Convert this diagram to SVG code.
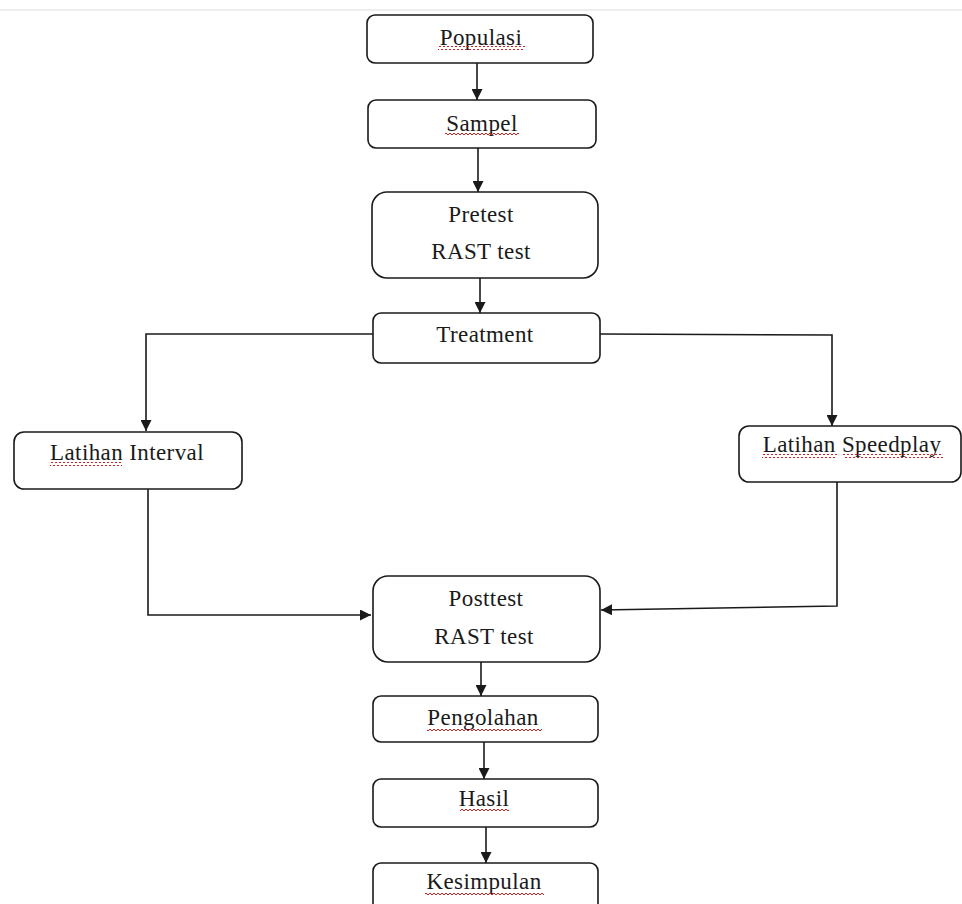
<svg xmlns="http://www.w3.org/2000/svg" width="962" height="904" viewBox="0 0 962 904">
<style>
.box{fill:#fff;stroke:#1a1a1a;stroke-width:1.6}
.t{font-family:"Liberation Serif","Times New Roman",serif;font-size:23px;letter-spacing:0.4px;fill:#1a1a1a;text-anchor:middle}
.c{fill:none;stroke:#1a1a1a;stroke-width:1.6}
.w{fill:url(#wave)}
</style>
<defs>
<marker id="ah" markerUnits="userSpaceOnUse" markerWidth="11" markerHeight="11" refX="11" refY="5.5" orient="auto">
<path d="M0,0 L11,5.5 L0,11 z" fill="#1a1a1a"/>
</marker>
<pattern id="wave" patternUnits="userSpaceOnUse" width="4" height="4">
<path d="M0,3 L2,1 L4,3" fill="none" stroke="#d02020" stroke-width="1"/>
</pattern>
</defs>
<rect x="0" y="0" width="962" height="904" fill="#fff"/>
<line x1="0" y1="10" x2="962" y2="10" stroke="#dcdcdc" stroke-width="1"/>

<g id="connectors">
<path class="c" d="M477 63 V100" marker-end="url(#ah)"/>
<path class="c" d="M478 148 V192" marker-end="url(#ah)"/>
<path class="c" d="M480 278 V313" marker-end="url(#ah)"/>
<path class="c" d="M373 334 H146 V431" marker-end="url(#ah)"/>
<path class="c" d="M600 334 L832 335 V426" marker-end="url(#ah)"/>
<path class="c" d="M148 489 V615 H371" marker-end="url(#ah)"/>
<path class="c" d="M837 482 V606 L601 610" marker-end="url(#ah)"/>
<path class="c" d="M481 662 V696" marker-end="url(#ah)"/>
<path class="c" d="M484 742 V779" marker-end="url(#ah)"/>
<path class="c" d="M486 827 V863" marker-end="url(#ah)"/>
</g>

<g id="populasi">
<rect class="box" x="367" y="15" width="226" height="48" rx="8"/>
<text class="t" x="481" y="45">Populasi</text>
<rect class="w" x="438" y="46" width="87" height="4"/>
</g>
<g id="sampel">
<rect class="box" x="368" y="100" width="228" height="48" rx="8"/>
<text class="t" x="482" y="131">Sampel</text>
<rect class="w" x="445" y="133" width="74" height="4"/>
</g>
<g id="pretest">
<rect class="box" x="372" y="192" width="226" height="86" rx="15"/>
<text class="t" x="481" y="222">Pretest</text>
<text class="t" x="481" y="259">RAST test</text>
</g>
<g id="treatment">
<rect class="box" x="373" y="313" width="227" height="50" rx="8"/>
<text class="t" x="485" y="342">Treatment</text>
</g>
<g id="latihan-interval">
<rect class="box" x="14" y="432" width="228" height="57" rx="10"/>
<text class="t" x="127" y="460">Latihan Interval</text>
<rect class="w" x="50" y="462" width="72" height="4"/>
</g>
<g id="latihan-speedplay">
<rect class="box" x="739" y="426" width="222" height="56" rx="10"/>
<text class="t" x="852" y="452">Latihan Speedplay</text>
<rect class="w" x="762" y="454" width="75" height="4"/>
<rect class="w" x="843" y="454" width="100" height="4"/>
</g>
<g id="posttest">
<rect class="box" x="373" y="576" width="227" height="86" rx="15"/>
<text class="t" x="486" y="606">Posttest</text>
<text class="t" x="484" y="644">RAST test</text>
</g>
<g id="pengolahan">
<rect class="box" x="373" y="696" width="225" height="46" rx="8"/>
<text class="t" x="483" y="725">Pengolahan</text>
<rect class="w" x="427" y="728" width="115" height="4"/>
</g>
<g id="hasil">
<rect class="box" x="373" y="779" width="225" height="48" rx="8"/>
<text class="t" x="484" y="806">Hasil</text>
<rect class="w" x="460" y="808" width="49" height="4"/>
</g>
<g id="kesimpulan">
<rect class="box" x="373" y="863" width="225" height="60" rx="8"/>
<text class="t" x="484" y="889">Kesimpulan</text>
<rect class="w" x="425" y="891" width="119" height="4"/>
</g>
</svg>
